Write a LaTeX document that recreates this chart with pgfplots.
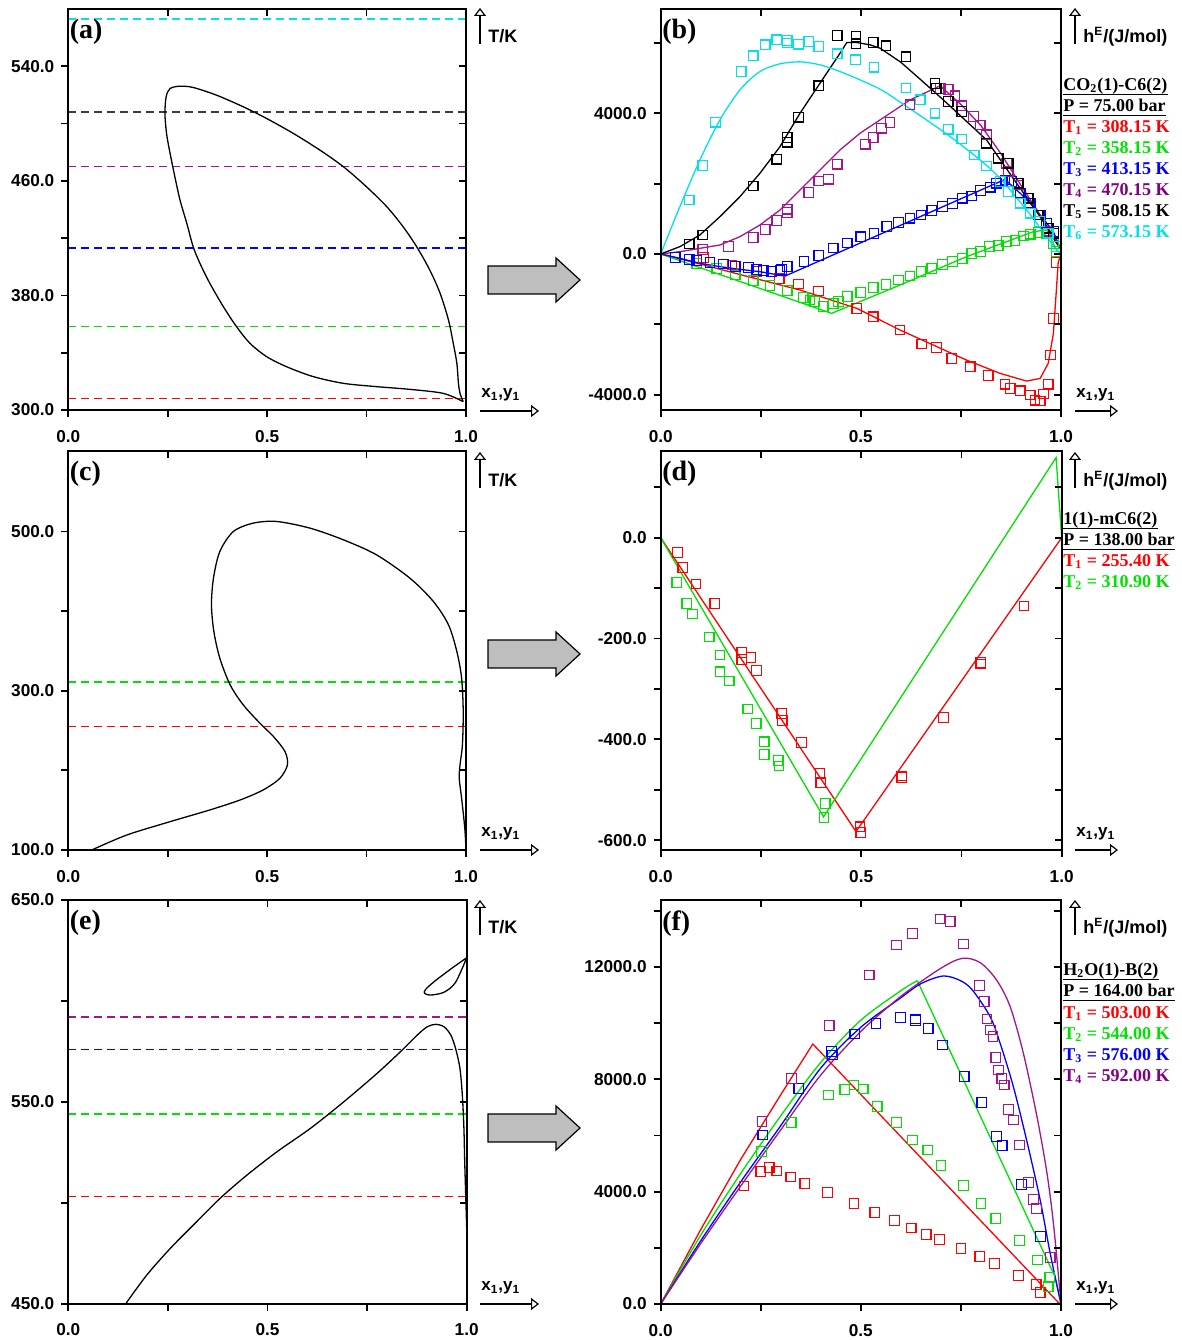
\documentclass[border=0pt]{standalone}
\usepackage{fontspec}
\setmainfont{Liberation Serif}
\newfontfamily\arial{Liberation Sans}
\usepackage{pgfplots}
\pgfplotsset{compat=1.18}
\usetikzlibrary{arrows.meta}

\definecolor{cR}{RGB}{255,0,0}
\definecolor{cG}{RGB}{0,225,0}
\definecolor{cB}{RGB}{0,0,255}
\definecolor{cP}{RGB}{165,20,140}
\definecolor{cPt}{RGB}{128,0,128}
\definecolor{cKd}{RGB}{60,60,60}
\definecolor{cC}{RGB}{0,225,235}
\definecolor{cGray}{RGB}{190,190,190}

\pgfplotsset{
 base/.style={scale only axis, anchor=south west, xmin=0, xmax=1, clip=false,
   scaled x ticks=false, scaled y ticks=false,
   axis line style={line width=0.9pt}, every tick/.style={line width=0.9pt, black},
   major tick length=3.5pt, xtick={0,0.25,0.5,0.75,1}},
 panel/.style={base, tick align=outside, xtick pos=bottom, ytick pos=left,
   xticklabels={0.0,,0.5,,1.0},
   ticklabel style={font=\arial\bfseries\fontsize{8.6}{10}\selectfont},
   xticklabel style={yshift=-3pt}},
 mirror/.style={base, tick align=inside, xtick pos=top, ytick pos=right, xticklabels={}, yticklabels={}},
 crv/.style={line width=0.65pt, no markers},
 dsh/.style={line width=0.7pt, no markers, dash pattern=on 4pt off 2.5pt},
 pts/.style={only marks, mark=square, mark size=2.4pt, mark options={solid, line width=0.6pt}},
 pa/.style={at={(34.15pt,465pt)}, width=198.85pt, height=200.5pt, ymin=300, ymax=580,
   ytick={300,340,380,420,460,500,540}, yticklabels={300.0,,380.0,,460.0,,540.0}},
 pb/.style={at={(330.35pt,465pt)}, width=200.15pt, height=200.5pt, ymin=-4435, ymax=6965,
   ytick={-4000,-2000,0,2000,4000,6000}, yticklabels={-4000.0,,0.0,,4000.0,}},
 pc/.style={at={(34.15pt,245pt)}, width=198.85pt, height=199.5pt, ymin=100, ymax=601,
   ytick={100,200,300,400,500}, yticklabels={100.0,,300.0,,500.0}},
 pd/.style={at={(330.35pt,245pt)}, width=200.5pt, height=199.5pt, ymin=-619.6, ymax=172,
   ytick={-600,-500,-400,-300,-200,-100,0,100}, yticklabels={-600.0,,-400.0,,-200.0,,0.0,}},
 pe/.style={at={(34.15pt,18.15pt)}, width=199.2pt, height=201.85pt, ymin=450, ymax=650,
   ytick={450,500,550,600,650}, yticklabels={450.0,,550.0,,650.0}},
 pf/.style={at={(330.35pt,18pt)}, width=200.15pt, height=202pt, ymin=0, ymax=14378,
   ytick={0,2000,4000,6000,8000,10000,12000,14000}, yticklabels={0.0,,4000.0,,8000.0,,12000.0,}},
}
\tikzset{plab/.style={anchor=north west, inner sep=0pt, font=\bfseries\fontsize{14}{14}\selectfont},
 lg/.style={anchor=base west, inner sep=0pt, font=\bfseries\fontsize{9}{10}\selectfont},
 al/.style={anchor=base west, inner sep=0pt, font=\arial\bfseries\fontsize{9}{10}\selectfont},
 xl/.style={anchor=base west, inner sep=0pt, font=\arial\bfseries\fontsize{8.5}{10}\selectfont},
 oarr/.style={line width=0.6pt, -{Triangle[open, length=4pt, width=6pt]}}}

\begin{document}
\begin{tikzpicture}
\useasboundingbox (0,0) rectangle (591pt,670pt);

% ---------------- (a)
\begin{axis}[panel, pa]
\addplot[dsh, cR] coordinates {(0,308.15) (1,308.15)};
\addplot[dsh, cG] coordinates {(0,358.15) (1,358.15)};
\addplot[dsh, cB] coordinates {(0,413.15) (1,413.15)};
\addplot[dsh, cP] coordinates {(0,470.15) (1,470.15)};
\addplot[dsh, cKd] coordinates {(0,508.15) (1,508.15)};
\addplot[dsh, cC] coordinates {(0,573.15) (1,573.15)};
\addplot[crv, black, smooth] coordinates {(0.993,305.8) (0.943,311.6) (0.859,314.4) (0.775,316.3) (0.692,318.6) (0.616,323.3) (0.549,330.2) (0.499,337.2) (0.457,346.5) (0.423,358.2) (0.390,372.1) (0.356,388.4) (0.331,402.4) (0.314,414.0) (0.298,430.3) (0.281,446.5) (0.268,462.8) (0.256,479.1) (0.247,493.1) (0.243,507.0) (0.246,518.7) (0.256,524.5) (0.281,526.1) (0.314,525.2) (0.373,519.8) (0.440,511.7) (0.499,503.5) (0.566,493.1) (0.633,481.4) (0.692,469.8) (0.750,455.8) (0.801,441.9) (0.842,427.9) (0.876,414.0) (0.909,397.7) (0.935,381.4) (0.956,362.8) (0.968,346.5) (0.977,332.6) (0.981,318.6) (0.985,311.6) (0.993,305.8)};
\node[plab] at (rel axis cs:0,1) [xshift=0.6pt, yshift=-5pt] {(a)};
\end{axis}
\begin{axis}[pa, mirror]\end{axis}

% ---------------- (b)
\begin{axis}[panel, pb]
\addplot[crv, cR] coordinates {(0,0) (0.1,-290) (0.2,-590) (0.348,-1024) (0.490,-1546) (0.598,-2162) (0.681,-2589) (0.764,-3016) (0.848,-3395) (0.914,-3613) (0.948,-3537) (0.968,-3110) (0.981,-2257) (0.989,-930) (0.993,-237) (1.0,0)};
\addplot[crv, cG] coordinates {(0,0) (0.427,-1688) (0.598,-882) (0.764,-76) (0.931,635) (0.964,683) (0.989,114) (1.0,0)};
\addplot[crv, cB] coordinates {(0,0) (0.048,-123) (0.098,-265) (0.148,-360) (0.198,-436) (0.248,-503) (0.31,-630) (0.86,2120) (0.898,1727) (0.923,1442) (0.948,1110) (0.981,635) (1.0,100)};
\addplot[crv, cP] coordinates {(0,0) (0.048,66) (0.098,161) (0.148,256) (0.198,493) (0.248,825) (0.298,1252) (0.348,1821) (0.398,2390) (0.448,2959) (0.498,3433) (0.548,3812) (0.623,4381) (0.698,4780) (0.75,4250) (0.80,3650) (0.85,2850) (0.90,1950) (0.94,1250) (0.97,700) (1.0,150)};
\addplot[crv, black] coordinates {(0,0) (0.048,209) (0.098,541) (0.148,1062) (0.198,1631) (0.248,2295) (0.298,3053) (0.348,4002) (0.398,4855) (0.448,5709) (0.465,6012) (0.490,6012) (0.523,5946) (0.548,5851) (0.6,5450) (0.65,4950) (0.706,4381) (0.814,3243) (0.889,2011) (0.931,1346) (0.964,777) (0.989,304) (1.0,150)};
\addplot[crv, cC, smooth] coordinates {(0,0) (0.048,1347) (0.098,2674) (0.148,3812) (0.198,4666) (0.248,5187) (0.298,5406) (0.348,5462) (0.398,5377) (0.448,5187) (0.498,4950) (0.548,4685) (0.590,4381) (0.723,3338) (0.831,2342) (0.914,1252) (0.964,493) (0.989,114) (1.0,50)};
\addplot[pts, cR] coordinates {(0.107,-104) (0.178,-313) (0.24,-500) (0.296,-692) (0.344,-854) (0.394,-1053) (0.490,-1546) (0.531,-1783) (0.598,-2162) (0.652,-2561) (0.689,-2656) (0.727,-2968) (0.773,-3205) (0.818,-3452) (0.860,-3699) (0.873,-3822) (0.898,-3888) (0.923,-4011) (0.935,-4154) (0.948,-4182) (0.956,-3983) (0.968,-3699) (0.974,-2873) (0.981,-1830) (0.989,-237)};
\addplot[pts, cG] coordinates {(0.090,-265) (0.140,-408) (0.186,-597) (0.231,-759) (0.273,-901) (0.316,-1043) (0.356,-1240) (0.373,-1309) (0.385,-1356) (0.406,-1498) (0.431,-1404) (0.444,-1356) (0.466,-1214) (0.500,-1091) (0.531,-958) (0.563,-863) (0.594,-740) (0.623,-626) (0.650,-503) (0.677,-408) (0.704,-294) (0.729,-218) (0.753,-123) (0.777,19) (0.799,66) (0.821,209) (0.843,237) (0.864,351) (0.885,380) (0.906,512) (0.923,560) (0.943,607) (0.964,588) (0.981,304) (0.989,66)};
\addplot[pts, cB] coordinates {(0.036,-95) (0.071,-152) (0.090,-190) (0.123,-247) (0.157,-285) (0.186,-360) (0.219,-389) (0.240,-436) (0.256,-474) (0.277,-503) (0.298,-474) (0.302,-436) (0.316,-360) (0.358,-218) (0.395,-40) (0.431,170) (0.466,313) (0.500,490) (0.533,588) (0.565,778) (0.594,892) (0.623,1015) (0.650,1110) (0.677,1233) (0.704,1347) (0.729,1441) (0.753,1584) (0.777,1650) (0.799,1801) (0.823,1897) (0.839,2011) (0.848,2077) (0.860,2105) (0.877,2057) (0.898,1727) (0.923,1442) (0.948,1110) (0.964,873) (0.981,635)};
\addplot[pts, cP] coordinates {(0.105,133) (0.169,208) (0.231,465) (0.261,702) (0.290,948) (0.316,1185) (0.316,1271) (0.370,1745) (0.395,2077) (0.419,2124) (0.441,2551) (0.511,3120) (0.531,3310) (0.552,3575) (0.573,3736) (0.623,4239) (0.698,4700) (0.718,4680) (0.735,4500) (0.752,4211) (0.781,3906) (0.798,3670) (0.814,3386) (0.864,2580) (0.868,2342) (0.893,1963) (0.918,1585) (0.943,1110) (0.968,650)};
\addplot[pts, black] coordinates {(0.071,285) (0.105,541) (0.231,1935) (0.290,2693) (0.316,3310) (0.316,3177) (0.344,3888) (0.395,4780) (0.441,6212) (0.488,6183) (0.488,5975) (0.531,6012) (0.563,5917) (0.613,5605) (0.685,4850) (0.688,4700) (0.718,4333) (0.752,4049) (0.814,3149) (0.843,2722) (0.868,2580) (0.893,2011) (0.918,1585) (0.943,1110) (0.968,731) (0.981,589)};
\addplot[pts, cC] coordinates {(0.071,1536) (0.105,2513) (0.137,3746) (0.201,5188) (0.231,5633) (0.261,5946) (0.290,6088) (0.316,6069) (0.316,6000) (0.344,5966) (0.370,6041) (0.395,5898) (0.441,5690) (0.487,5519) (0.533,5311) (0.613,4720) (0.648,4381) (0.685,4003) (0.718,3548) (0.752,3272) (0.783,2817) (0.814,2504) (0.848,2057) (0.868,1772) (0.898,1442) (0.923,1158) (0.946,919) (0.968,589) (0.988,208)};
\node[plab] at (rel axis cs:0,1) [xshift=0.6pt, yshift=-5pt] {(b)};
\end{axis}
\begin{axis}[pb, mirror]\end{axis}

% ---------------- (c)
\begin{axis}[panel, pc]
\addplot[dsh, cG] coordinates {(0,310.9) (1,310.9)};
\addplot[dsh, cR] coordinates {(0,255.4) (1,255.4)};
\addplot[crv, black, smooth] coordinates {(0.059,100) (0.147,118.8) (0.256,135.6) (0.356,150.3) (0.432,162.8) (0.490,175.4) (0.532,190.0) (0.551,206.8) (0.545,223.5) (0.516,242.4) (0.482,259.1) (0.440,282.2) (0.407,307.3) (0.381,340.8) (0.366,374.3) (0.360,407.8) (0.365,441.3) (0.381,474.8) (0.415,499.9) (0.465,510.4) (0.524,512.5) (0.608,504.1) (0.692,489.4) (0.775,470.6) (0.859,441.3) (0.918,412.0) (0.956,382.7) (0.977,349.2) (0.989,315.7) (0.993,273.8) (0.991,231.9) (0.985,206.8) (0.983,190.0) (0.989,164.9) (0.997,127.2) (1.0,100)};
\node[plab] at (rel axis cs:0,1) [xshift=0.6pt, yshift=-5pt] {(c)};
\end{axis}
\begin{axis}[pc, mirror]\end{axis}

% ---------------- (d)
\begin{axis}[panel, pd]
\addplot[crv, cR] coordinates {(0,0) (0.487,-583) (1,0)};
\addplot[crv, cG] coordinates {(0,0) (0.406,-554) (0.986,159) (1,0)};
\addplot[pts, cR] coordinates {(0.042,-29) (0.055,-58.8) (0.088,-91.9) (0.135,-130.2) (0.202,-227.4) (0.202,-241.3) (0.225,-237.3) (0.239,-263.1) (0.302,-348.4) (0.303,-362.3) (0.351,-406.7) (0.397,-467.5) (0.399,-485.3) (0.497,-573.4) (0.499,-584.5) (0.601,-472.8) (0.601,-476) (0.705,-356.4) (0.798,-247.3) (0.798,-250.6) (0.906,-135.5)};
\addplot[pts, cG] coordinates {(0.040,-88.5) (0.065,-130.2) (0.079,-151.4) (0.121,-197) (0.148,-232.7) (0.148,-265.9) (0.171,-284.3) (0.217,-339.9) (0.238,-369) (0.258,-404.8) (0.258,-429.8) (0.293,-441.7) (0.295,-453) (0.410,-527) (0.407,-554.8)};
\node[plab] at (rel axis cs:0,1) [xshift=0.6pt, yshift=-5pt] {(d)};
\end{axis}
\begin{axis}[pd, mirror]\end{axis}

% ---------------- (e)
\begin{axis}[panel, pe]
\addplot[dsh, cP] coordinates {(0,592) (1,592)};
\addplot[dsh, cB] coordinates {(0,575.8) (1,575.8)};
\addplot[dsh, cG] coordinates {(0,544) (1,544)};
\addplot[dsh, cR] coordinates {(0,503) (1,503)};
\addplot[crv, black, smooth] coordinates {(0.145,450.2) (0.197,464.2) (0.256,477.4) (0.314,489.0) (0.381,502.2) (0.449,513.8) (0.524,525.3) (0.608,536.9) (0.692,550.1) (0.775,564.1) (0.834,574.9) (0.876,583.1) (0.901,587.2) (0.922,588.4) (0.943,587.2) (0.960,583.1) (0.972,576.5) (0.983,566.6) (0.989,553.4) (0.993,536.9) (0.995,520.4) (0.9975,503.9) (1.0,487.3)};
\addplot[crv, black, smooth] coordinates {(1.0,621.4) (0.960,615.8) (0.918,609.5) (0.897,605.7) (0.894,603.8) (0.909,602.9) (0.943,604.3) (0.972,609.2) (1.0,621.4)};
\node[plab] at (rel axis cs:0,1) [xshift=0.6pt, yshift=-5pt] {(e)};
\end{axis}
\begin{axis}[pe, mirror]\end{axis}

% ---------------- (f)
\begin{axis}[panel, pf]
\addplot[crv, cR] coordinates {(0,0) (0.1,2650) (0.2,5150) (0.3,7450) (0.38,9253) (0.997,0)};
\addplot[crv, cG, smooth] coordinates {(0,0) (0.1,2450) (0.2,4650) (0.3,6700) (0.4,8600) (0.5,10100) (0.6,11150) (0.641,11508)};
\addplot[crv, cG] coordinates {(0.641,11508) (0.985,972) (1.0,0)};
\addplot[crv, cB, smooth] coordinates {(0,0) (0.1,2250) (0.2,4350) (0.3,6350) (0.4,8400) (0.5,9850) (0.6,10900) (0.65,11400) (0.706,11674) (0.75,11500) (0.780,11150) (0.823,10226) (0.848,9277) (0.881,7735) (0.914,5837) (0.948,3701) (0.973,1803) (1.0,0)};
\addplot[crv, cP, smooth] coordinates {(0,0) (0.1,2150) (0.2,4200) (0.3,6200) (0.4,8150) (0.5,9700) (0.6,10950) (0.7,11950) (0.754,12303) (0.798,12150) (0.839,11531) (0.873,10582) (0.906,8922) (0.940,6667) (0.965,4650) (0.982,2752) (1.0,0)};
\addplot[pts, cR] coordinates {(0.208,4200) (0.250,4710) (0.271,4852) (0.290,4733) (0.325,4520) (0.360,4295) (0.417,3962) (0.483,3583) (0.535,3250) (0.584,2966) (0.626,2705) (0.663,2480) (0.696,2290) (0.750,1969) (0.797,1685) (0.834,1435) (0.894,1020) (0.938,688) (0.948,403)};
\addplot[pts, cG] coordinates {(0.252,5421) (0.326,6466) (0.419,7438) (0.460,7640) (0.483,7794) (0.506,7652) (0.541,7035) (0.589,6466) (0.629,5837) (0.667,5481) (0.700,4923) (0.756,4211) (0.800,3583) (0.837,3049) (0.896,2266) (0.941,1566) (0.968,617) (0.972,937)};
\addplot[pts, cB] coordinates {(0.255,6015) (0.345,7676) (0.427,8980) (0.429,8862) (0.485,9609) (0.538,9989) (0.599,10191) (0.637,10143) (0.637,10084) (0.668,9799) (0.704,9218) (0.758,8091) (0.802,7177) (0.839,5955) (0.853,5635) (0.901,4259) (0.949,2396)};
\addplot[pts, cP] coordinates {(0.253,6489) (0.327,8032) (0.421,9906) (0.521,11709) (0.589,12777) (0.629,13192) (0.698,13702) (0.723,13607) (0.756,12812) (0.796,11329) (0.808,10760) (0.815,10143) (0.824,9752) (0.830,9514) (0.837,8767) (0.844,8328) (0.852,8032) (0.858,7794) (0.869,6928) (0.881,6549) (0.896,5659) (0.919,4318) (0.931,3725) (0.939,3405) (0.973,1661)};
\node[plab] at (rel axis cs:0,1) [xshift=0.6pt, yshift=-5pt] {(f)};
\end{axis}
\begin{axis}[pf, mirror]\end{axis}

% ---------------- annotations in pixel coordinates
\begin{scope}[x=0.5pt, y=-0.5pt, shift={(0pt,670pt)}]
% block arrows
\foreach \cy in {280,654,1128} {
  \draw[fill=cGray, line width=0.6pt] (488,\cy-14) -- (556,\cy-14) -- (556,\cy-22) -- (580,\cy) -- (556,\cy+22) -- (556,\cy+14) -- (488,\cy+14) -- cycle;
}
% vertical axis arrows and labels
\foreach \yb/\yt in {44/8, 488/452, 935/900} {
  \draw[oarr] (480,\yb) -- (480,\yt);
  \draw[oarr] (1075,\yb) -- (1075,\yt);
  \node[al] at (488,\yb-1) {T/K};
  \node[al] at (1083,\yb-1) {h\textsuperscript{E}/(J/mol)};
}
% horizontal axis arrows and labels
\foreach \ya in {411, 850, 1304} {
  \draw[oarr] (480,\ya) -- (539,\ya);
  \draw[oarr] (1075,\ya) -- (1118,\ya);
  \node[xl] at (481,\ya-13) {x\textsubscript{1},y\textsubscript{1}};
  \node[xl] at (1076,\ya-13) {x\textsubscript{1},y\textsubscript{1}};
}
% legend (b)
\node[lg] (b1) at (1063,91) {CO\textsubscript{2}(1)-C6(2)};
\draw[line width=0.8pt] ([yshift=-1.8pt]b1.base west) -- ([yshift=-1.8pt]b1.base east);
\node[lg] (b2) at (1063,112) {P = 75.00 bar};
\draw[line width=0.8pt] ([yshift=-1.8pt]b2.base west) -- ([yshift=-1.8pt]b2.base east);
\node[lg, text=cR] at (1063,133) {T\textsubscript{1} = 308.15 K};
\node[lg, text=cG] at (1063,154) {T\textsubscript{2} = 358.15 K};
\node[lg, text=cB] at (1063,175) {T\textsubscript{3} = 413.15 K};
\node[lg, text=cPt] at (1063,196) {T\textsubscript{4} = 470.15 K};
\node[lg, text=black] at (1063,217) {T\textsubscript{5} = 508.15 K};
\node[lg, text=cC] at (1063,238) {T\textsubscript{6} = 573.15 K};
% legend (d)
\node[lg] (d1) at (1063,525) {1(1)-mC6(2)};
\draw[line width=0.8pt] ([yshift=-1.8pt]d1.base west) -- ([yshift=-1.8pt]d1.base east);
\node[lg] (d2) at (1063,546) {P = 138.00 bar};
\draw[line width=0.8pt] ([yshift=-1.8pt]d2.base west) -- ([yshift=-1.8pt]d2.base east);
\node[lg, text=cR] at (1063,567) {T\textsubscript{1} = 255.40 K};
\node[lg, text=cG] at (1063,588) {T\textsubscript{2} = 310.90 K};
% legend (f)
\node[lg] (f1) at (1063,976) {H\textsubscript{2}O(1)-B(2)};
\draw[line width=0.8pt] ([yshift=-1.8pt]f1.base west) -- ([yshift=-1.8pt]f1.base east);
\node[lg] (f2) at (1063,997) {P = 164.00 bar};
\draw[line width=0.8pt] ([yshift=-1.8pt]f2.base west) -- ([yshift=-1.8pt]f2.base east);
\node[lg, text=cR] at (1063,1019) {T\textsubscript{1} = 503.00 K};
\node[lg, text=cG] at (1063,1040) {T\textsubscript{2} = 544.00 K};
\node[lg, text=cB] at (1063,1061) {T\textsubscript{3} = 576.00 K};
\node[lg, text=cPt] at (1063,1082) {T\textsubscript{4} = 592.00 K};
\end{scope}
\end{tikzpicture}
\end{document}
